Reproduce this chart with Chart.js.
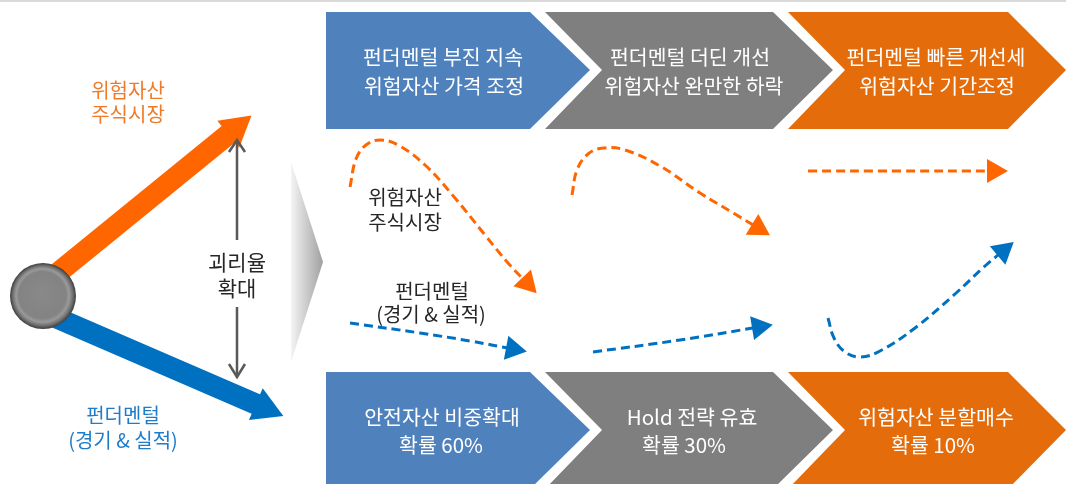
<!DOCTYPE html>
<html>
<head>
<meta charset="utf-8">
<script src="https://cdn.jsdelivr.net/npm/chart.js@4/dist/chart.umd.min.js"></script>
<style>
  html, body { margin: 0; padding: 0; background: #fff; }
  canvas { display: block; }
</style>
</head>
<body>
<canvas id="diagram" width="1066" height="484"></canvas>
<script>
// --- shapes, in picture units (x right, y down) ---
const topRule = [[0, 1], [1066, 1]];

const chevronTopBlue = [[326, 12], [530, 12], [590, 70], [530, 129], [326, 129]];
const chevronTopGray = [[545, 12], [773, 12], [833, 70], [773, 129], [545, 129], [602, 70]];
const chevronTopOrange = [[788, 12], [1008, 12], [1066, 70], [1008, 129], [788, 129], [845, 70]];
const chevronBottomBlue = [[326, 372], [530, 372], [590, 430], [530, 489], [326, 489]];
const chevronBottomGray = [[545, 372], [773, 372], [833, 430], [773, 489], [545, 489], [602, 430]];
const chevronBottomOrange = [[788, 372], [1008, 372], [1066, 430], [1008, 489], [788, 489], [845, 430]];

const pointerTriangle = [[291, 162], [323, 262], [291, 362]];

const riskShaft = [[43, 285], [236, 128]];
const fundShaft = [[43, 312], [265, 408]];
const ball = [[43, 296]];

const gapLineTop = [[237, 141], [237, 240]];
const gapLineBottom = [[237, 307], [237, 376]];
const gapHeadTop = [[229, 152], [237, 140], [245, 152]];
const gapHeadBottom = [[229, 364], [237, 377], [245, 364]];

// dashed paths (last point = centre of arrow head)
const riskPath1 = [[350, 187], [356, 159], [366, 145], [380, 140], [398, 145], [425, 165], [455, 198], [485, 235], [508, 263], [527, 283]];
const fundPath1 = [[350, 323], [420, 333], [470, 341], [513, 349]];
const riskPath2 = [[572, 195], [577, 170], [588, 154], [603, 148], [625, 150], [660, 166], [700, 193], [735, 214], [758, 228]];
const fundPath2 = [[593, 352], [680, 340], [759, 327]];
const riskPath3 = [[808, 171], [900, 171], [994, 171]];
const fundPath3 = [[828, 318], [834, 338], [845, 352], [860, 357], [880, 351], [915, 328], [955, 294], [985, 266], [1003, 251]];

// --- texts ---
const labelText = [
  '펀더멘털 부진 지속', '위험자산 가격 조정',
  '펀더멘털 더딘 개선', '위험자산 완만한 하락',
  '펀더멘털 빠른 개선세', '위험자산 기간조정',
  '안전자산 비중확대', '확률 60%',
  'Hold 전략 유효', '확률 30%',
  '위험자산 분할매수', '확률 10%',
  '위험자산', '주식시장',
  '펀더멘털', '(경기 & 실적)',
  '괴리율', '확대',
  '위험자산', '주식시장',
  '펀더멘털', '(경기 & 실적)'
];
const labelAt = [
  [443, 57], [444, 86],
  [690, 57], [694, 86],
  [936, 57], [937, 86],
  [442, 417], [441, 445],
  [692, 417], [684, 445],
  [936, 417], [933, 445],
  [128, 90], [128, 114],
  [123, 415], [123, 440],
  [237, 262], [237, 288],
  [405, 197], [405, 222],
  [432, 291], [431, 314]
];
const labelStyle = [
  'w', 'w', 'w', 'w', 'w', 'w', 'w', 'w', 'w', 'w', 'w', 'w',
  'o', 'o', 'b', 'b', 'g', 'g', 'k', 'k', 'k', 'k'
];

const BLUE = '#4f81bd', GRAY = '#7f7f7f', ORANGE = '#e46c0a';
const RISK = '#ff6600', FUND = '#0070c0';
const styles = {
  w: { color: '#ffffff', font: '20.5px "Noto Sans CJK KR"' },
  o: { color: '#f07a26', font: '20px "Noto Sans CJK KR"' },
  b: { color: '#1e7cc8', font: '20px "Noto Sans CJK KR"' },
  g: { color: '#262626', font: '21px "Noto Sans CJK KR"' },
  k: { color: '#262626', font: '20px "Noto Sans CJK KR"' }
};

const xy = pts => pts.map(([x, y]) => ({ x, y }));

function shape(pts, color) {
  return {
    data: xy(pts), showLine: true, fill: 'shape', tension: 0,
    backgroundColor: color, borderColor: 'rgba(0,0,0,0)', borderWidth: 1, pointRadius: 0
  };
}
function line(pts, color, width, dash) {
  return {
    data: xy(pts), showLine: true, fill: false, tension: dash ? 0.4 : 0,
    borderColor: color, borderWidth: width, borderDash: dash || [],
    borderCapStyle: 'butt', pointRadius: 0
  };
}
// arrow head sitting on the last point of a path, turned along its last step
function head(pts, color, size) {
  const [x0, y0] = pts[pts.length - 2];
  const [x1, y1] = pts[pts.length - 1];
  const rot = Math.atan2(x1 - x0, -(y1 - y0)) * 180 / Math.PI;
  return {
    data: xy([pts[pts.length - 1]]), showLine: false,
    pointStyle: 'triangle', pointRadius: size, pointRotation: rot,
    pointBackgroundColor: color, pointBorderWidth: 0, pointBorderColor: color
  };
}

const pointerFill = ctx => {
  const c = ctx.chart;
  if (!c.chartArea) return '#bbb';
  const sx = c.scales.x;
  const g = c.ctx.createLinearGradient(sx.getPixelForValue(291), 0, sx.getPixelForValue(323), 0);
  g.addColorStop(0, '#f4f4f4');
  g.addColorStop(1, '#a0a0a0');
  return g;
};
const ballFill = ctx => {
  const c = ctx.chart;
  if (!c.chartArea) return '#808080';
  const px = c.scales.x.getPixelForValue(ball[0][0]);
  const py = c.scales.y.getPixelForValue(ball[0][1]);
  const g = c.ctx.createRadialGradient(px - 2, py - 3, 1, px, py, 33);
  g.addColorStop(0, '#898989');
  g.addColorStop(0.7, '#838383');
  g.addColorStop(0.8, '#9a9a9a');
  g.addColorStop(0.9, '#727272');
  g.addColorStop(1, '#3c3c3c');
  return g;
};

const datasets = [
  line(topRule, '#d9d9d9', 2),
  shape(chevronTopBlue, BLUE),
  shape(chevronTopGray, GRAY),
  shape(chevronTopOrange, ORANGE),
  shape(chevronBottomBlue, BLUE),
  shape(chevronBottomGray, GRAY),
  shape(chevronBottomOrange, ORANGE),
  Object.assign(shape(pointerTriangle, '#bbb'), { backgroundColor: pointerFill }),
  line(riskShaft, RISK, 21), head(riskShaft, RISK, 20),
  line(fundShaft, FUND, 21), head(fundShaft, FUND, 20),
  {
    data: xy(ball), showLine: false, pointRadius: 33, pointStyle: 'circle',
    pointBackgroundColor: ballFill, pointBorderWidth: 0, pointBorderColor: 'rgba(0,0,0,0)'
  },
  line(gapLineTop, '#595959', 2.5), line(gapLineBottom, '#595959', 2.5),
  line(gapHeadTop, '#595959', 2.5), line(gapHeadBottom, '#595959', 2.5),
  line(riskPath1, RISK, 3, [9, 5]), head(riskPath1, RISK, 14),
  line(fundPath1, FUND, 3, [9, 5]), head(fundPath1, FUND, 14),
  line(riskPath2, RISK, 3, [9, 5]), head(riskPath2, RISK, 14),
  line(fundPath2, FUND, 3, [9, 5]), head(fundPath2, FUND, 14),
  line(riskPath3, RISK, 3, [9, 5]), head(riskPath3, RISK, 14),
  line(fundPath3, FUND, 3, [9, 5]), head(fundPath3, FUND, 14)
];
datasets.forEach((d, i) => { d.order = -i; });

const textPlugin = {
  id: 'texts',
  afterDatasetsDraw(chart) {
    const { ctx, scales: { x, y } } = chart;
    ctx.save();
    ctx.textAlign = 'center';
    ctx.textBaseline = 'middle';
    labelText.forEach((t, i) => {
      const s = styles[labelStyle[i]];
      ctx.fillStyle = s.color;
      ctx.font = s.font;
      ctx.fillText(t, x.getPixelForValue(labelAt[i][0]), y.getPixelForValue(labelAt[i][1]));
    });
    ctx.restore();
  }
};

new Chart(document.getElementById('diagram'), {
  type: 'scatter',
  data: { datasets },
  options: {
    responsive: false,
    animation: false,
    devicePixelRatio: 1,
    layout: { padding: 0, autoPadding: false },
    plugins: { legend: { display: false }, tooltip: { enabled: false } },
    scales: {
      x: { type: 'linear', min: 0, max: 1066, display: false },
      y: { type: 'linear', min: 0, max: 484, reverse: true, display: false }
    }
  },
  plugins: [textPlugin]
});
</script>
</body>
</html>
